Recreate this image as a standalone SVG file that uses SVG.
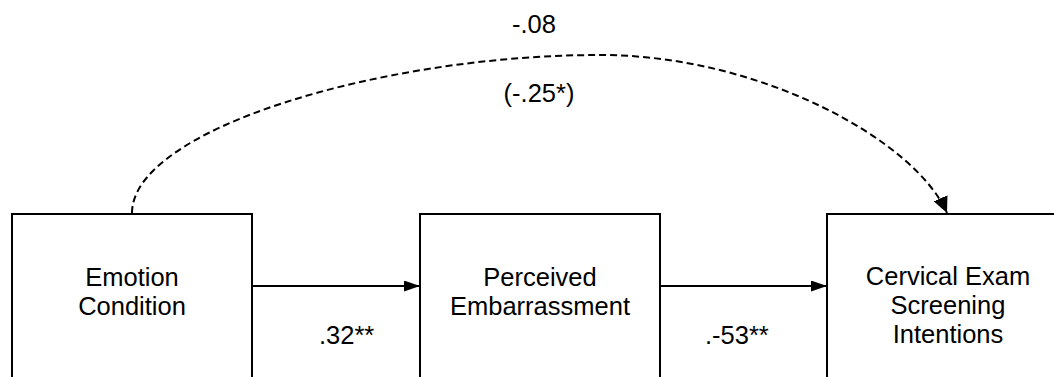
<svg xmlns="http://www.w3.org/2000/svg" width="1054" height="377" viewBox="0 0 1054 377">
<defs>
<style>
text{font-family:"Liberation Sans",Arial,sans-serif;font-size:25.5px;fill:#000}
.box{fill:#fff;stroke:#000;stroke-width:2}
.conn{fill:none;stroke:#000;stroke-width:2}
.dash{stroke-dasharray:7 4}
</style>
<marker id="ah" markerUnits="userSpaceOnUse" markerWidth="18" markerHeight="12" refX="16" refY="5.5" orient="auto"><path d="M0,0 L16,5.5 L0,11 Z" fill="#000"/></marker>
<marker id="ahd" markerUnits="userSpaceOnUse" markerWidth="18" markerHeight="16" refX="16" refY="7.5" orient="auto"><path d="M0,0 L16,7.5 L0,15 Z" fill="#000"/></marker>
</defs>
<rect width="1054" height="377" fill="#fff"/>
<g id="connectors">
<path class="conn" d="M252,286 L420,286" marker-end="url(#ah)"/>
<path class="conn" d="M660,286 L827,286" marker-end="url(#ah)"/>
<path class="conn dash" d="M132,213 C132,130 380,55 600,55 C760,55 915,140 947,213" marker-end="url(#ahd)"/>
</g>
<g id="node-emotion">
<rect class="box" x="12" y="214" width="240" height="200"/>
<text x="132" y="286" text-anchor="middle">Emotion</text>
<text x="132" y="314.5" text-anchor="middle">Condition</text>
</g>
<g id="node-embarrassment">
<rect class="box" x="420" y="214" width="240" height="200"/>
<text x="540" y="286" text-anchor="middle">Perceived</text>
<text x="540" y="314.5" text-anchor="middle">Embarrassment</text>
</g>
<g id="node-intentions">
<rect class="box" x="827" y="214" width="241" height="200"/>
<text x="948" y="285" text-anchor="middle">Cervical Exam</text>
<text x="948" y="314" text-anchor="middle">Screening</text>
<text x="948" y="343" text-anchor="middle">Intentions</text>
</g>
<g id="labels">
<text x="534" y="32.5" text-anchor="middle">-.08</text>
<text x="539" y="102" text-anchor="middle">(-.25*)</text>
<text x="319" y="343.5">.32**</text>
<text x="705" y="343.5">.-53**</text>
</g>
</svg>
